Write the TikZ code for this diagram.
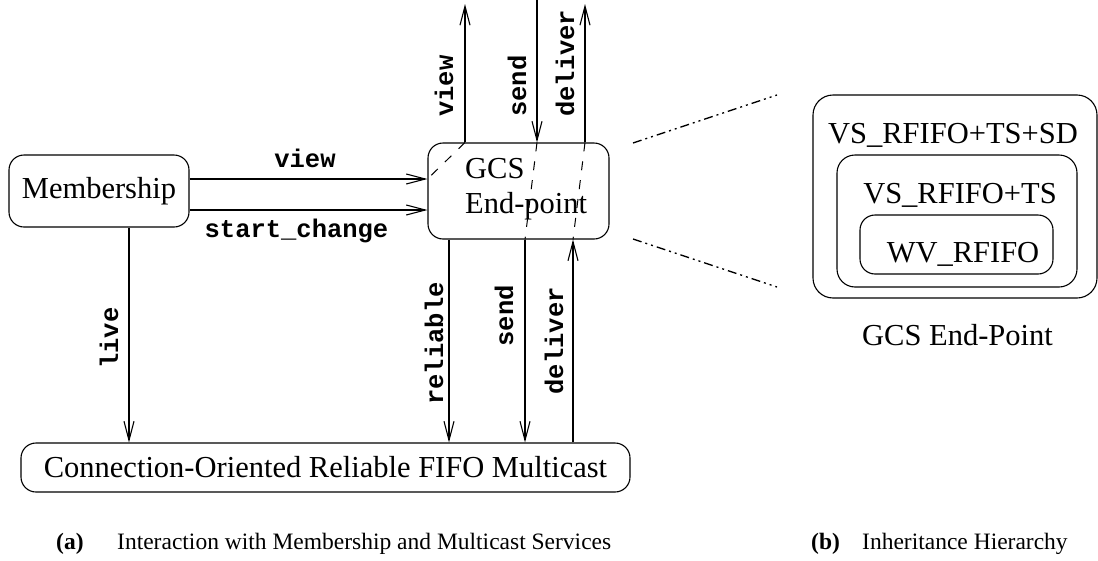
\documentclass[tikz,border=0pt]{standalone}
\usepackage{fontspec}
\setmainfont{Liberation Serif}
\setmonofont{Liberation Mono}
\usetikzlibrary{arrows.meta}
\begin{document}
\begin{tikzpicture}[x=1pt,y=-1pt,
  box/.style={draw, rounded corners=15pt, line width=1.1pt, inner sep=0pt},
  lbl/.style={font=\fontsize{30.5}{35}\selectfont, inner sep=0pt},
  sig/.style={font=\fontsize{25.5}{30}\selectfont\ttfamily\bfseries, inner sep=0pt},
  captxt/.style={font=\fontsize{23.5}{28}\selectfont, inner sep=0pt},
  arr/.style={line width=1.1pt, -{Straight Barb[length=19pt,width=10pt,line width=1.1pt]}},
  dsh/.style={line width=1pt, dash pattern=on 9pt off 10pt},
  zl/.style={line width=1.3pt, dash pattern=on 9pt off 4pt on 2pt off 4pt on 2pt off 4pt},
]
\useasboundingbox (0,0) rectangle (1098,560);

% boxes
\node[box, minimum width=180pt, minimum height=72pt, lbl] (mem) at (99,191) {Membership};
\node[box, minimum width=181pt, minimum height=96pt] (gcs) at (518.5,191) {};
\node[lbl, anchor=base west] (g1) at (465,178) {GCS};
\node[lbl, anchor=base west] (g2) at (465,213) {End-point};
\node[box, minimum width=609pt, minimum height=49pt, lbl] (bot) at (325.5,467.5) {Connection-Oriented Reliable FIFO Multicast};

% x / y positions
\coordinate (xv) at (465,0);
\coordinate (xs) at (537,0);
\coordinate (xd) at (585,0);
\coordinate (xr) at (449,0);
\coordinate (xs2) at (525,0);
\coordinate (xd2) at (573,0);
\coordinate (xl) at (129,0);
\coordinate (yv) at (0,179);
\coordinate (ysc) at (0,210);
\coordinate (ytip) at (0,4);
\coordinate (ytop) at (0,0);

% horizontal arrows
\draw[arr] (mem.east |- yv) -- (gcs.west |- yv);
\draw[arr] (mem.east |- ysc) -- (gcs.west |- ysc);
\node[sig, anchor=base] (lv) at (305,167) {view};
\node[sig, anchor=base] (lsc) at (296.5,237) {start\_change};

% top arrows
\draw[arr] (xv |- gcs.north) -- (xv |- ytip);
\draw[arr] (xs |- ytop) -- (xs |- gcs.north);
\draw[arr] (xd |- gcs.north) -- (xd |- ytip);
\node[sig, rotate=90, anchor=base west] (lvt) at (453,117) {view};
\node[sig, rotate=90, anchor=base west] (lst) at (526,117) {send};
\node[sig, rotate=90, anchor=base west] (ldt) at (574,117) {deliver};

% dashed inside GCS
\draw[dsh] (xv |- gcs.north) -- (gcs.west |- yv);
\draw[dsh] (xs |- gcs.north) -- (xs2 |- gcs.south);
\draw[dsh] (xd |- gcs.north) -- (xd2 |- gcs.south);

% bottom arrows
\draw[arr] (xr |- gcs.south) -- (xr |- bot.north);
\draw[arr] (xs2 |- gcs.south) -- (xs2 |- bot.north);
\draw[arr] (xd2 |- bot.north) -- (xd2 |- gcs.south);
\draw[arr] (xl |- mem.south) -- (xl |- bot.north);
\node[sig, rotate=90, anchor=base east] (lr) at (443,282) {reliable};
\node[sig, rotate=90, anchor=base east] (lsb) at (513,285) {send};
\node[sig, rotate=90, anchor=base east] (ldb) at (563,287) {deliver};
\node[sig, rotate=90, anchor=base] (ll) at (118,338) {live};

% zoom lines
\coordinate (z1) at (633,143);
\coordinate (z2) at (777,95);
\coordinate (z3) at (633,239);
\coordinate (z4) at (777,287);
\draw[zl] (z1) -- (z2);
\draw[zl] (z3) -- (z4);

% hierarchy
\node[box, rounded corners=20pt, minimum width=284pt, minimum height=203pt] (h1) at (955,196.5) {};
\node[box, rounded corners=18pt, minimum width=240pt, minimum height=132pt] (h2) at (957,221) {};
\node[box, rounded corners=15pt, minimum width=193pt, minimum height=59pt] (h3) at (956.5,244.5) {};
\node[lbl, anchor=base] (t1) at (953,143) {VS\_RFIFO+TS+SD};
\node[lbl, anchor=base] (t2) at (960,203) {VS\_RFIFO+TS};
\node[lbl, anchor=base] (t3) at (963,262) {WV\_RFIFO};
\node[lbl, anchor=base] (t4) at (957.5,345) {GCS End-Point};

% captions
\node[captxt, anchor=base west] (ca) at (56,549) {\textbf{(a)}};
\node[captxt, anchor=base west] (cat) at (117,549) {Interaction with Membership and Multicast Services};
\node[captxt, anchor=base west] (cb) at (811,549) {\textbf{(b)}};
\node[captxt, anchor=base west] (cbt) at (862,549) {Inheritance Hierarchy};
\end{tikzpicture}
\end{document}
